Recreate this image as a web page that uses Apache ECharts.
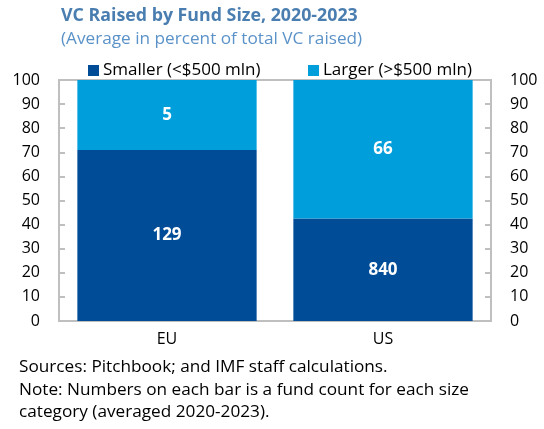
<!DOCTYPE html>
<html>
<head>
<meta charset="utf-8">
<script src="https://cdn.jsdelivr.net/npm/echarts@6/dist/echarts.min.js"></script>
<style>
	html, body { margin: 0; padding: 0; background: #fff; }
	#chart { width: 544px; height: 429px; }
</style>
</head>
<body>
<div id="chart"></div>
<script>
// data
const regions = ['EU', 'US'];
const smallerShare = [71, 42.5];
const largerShare = [29, 57.5];
const smallerCount = [129, 840];
const largerCount = [5, 66];
const yTicks = [0, 10, 20, 30, 40, 50, 60, 70, 80, 90, 100];

const fontFamily = '"Open Sans", "Noto Sans", sans-serif';
const DARK = '#004C97';
const LIGHT = '#009EDB';
const AXIS = '#BFBFBF';

const chart = echarts.init(document.getElementById('chart'));

const yAxisBase = (pos) => ({
	type: 'value',
	position: pos,
	min: yTicks[0],
	max: yTicks[yTicks.length - 1],
	interval: 10,
	axisLine: { show: true, lineStyle: { color: AXIS, width: 2 } },
	axisTick: { show: true, inside: true, length: 6, lineStyle: { color: AXIS, width: 2 } },
	axisLabel: { color: '#000', fontSize: 16, fontFamily, margin: 19 },
	splitLine: { show: false },
});

const barLabel = (counts) => ({
	show: true,
	position: 'inside',
	color: '#fff',
	fontSize: 17,
	fontWeight: 'bold',
	fontFamily,
	formatter: (p) => String(counts[p.dataIndex]),
});

const legendBase = (name, left) => ({
	data: [name],
	left,
	top: 57,
	icon: 'rect',
	itemWidth: 11,
	itemHeight: 11,
	textStyle: { color: '#000', fontSize: 17, fontFamily, padding: [0, 0, 0, -1] },
});

chart.setOption({
	animation: false,
	backgroundColor: '#fff',
	title: {
		text: 'VC Raised by Fund Size, 2020-2023',
		subtext: '(Average in percent of total VC raised)',
		left: 56,
		top: 2,
		itemGap: 6,
		textStyle: { color: '#4A7EB0', fontSize: 17.8, fontWeight: 'bold', fontFamily },
		subtextStyle: { color: '#5B92C8', fontSize: 17.2, fontFamily },
	},
	legend: [
		legendBase('Smaller (<$500 mln)', 83),
		legendBase('Larger (>$500 mln)', 303),
	],
	grid: {
		left: 59,
		right: 53,
		top: 80,
		bottom: 108,
		show: true,
		borderColor: AXIS,
		borderWidth: 2,
	},
	xAxis: {
		type: 'category',
		data: regions,
		axisLine: { show: true, lineStyle: { color: AXIS, width: 2 } },
		axisTick: { show: false },
		axisLabel: { color: '#000', fontSize: 16, fontFamily, margin: 10 },
	},
	yAxis: [yAxisBase('left'), yAxisBase('right')],
	series: [
		{
			name: 'Smaller (<$500 mln)',
			type: 'bar',
			stack: 'share',
			data: smallerShare,
			barWidth: '83%',
			itemStyle: { color: DARK },
			label: barLabel(smallerCount),
		},
		{
			name: 'Larger (>$500 mln)',
			type: 'bar',
			stack: 'share',
			data: largerShare,
			itemStyle: { color: LIGHT },
			label: barLabel(largerCount),
		},
	],
	graphic: [
		{
			type: 'text',
			left: 19,
			top: 356,
			style: {
				text: 'Sources: Pitchbook; and IMF staff calculations.\nNote: Numbers on each bar is a fund count for each size\ncategory (averaged 2020-2023).',
				fill: '#000',
				font: '17.2px ' + fontFamily,
				lineHeight: 22.5,
			},
		},
	],
});
</script>
</body>
</html>
